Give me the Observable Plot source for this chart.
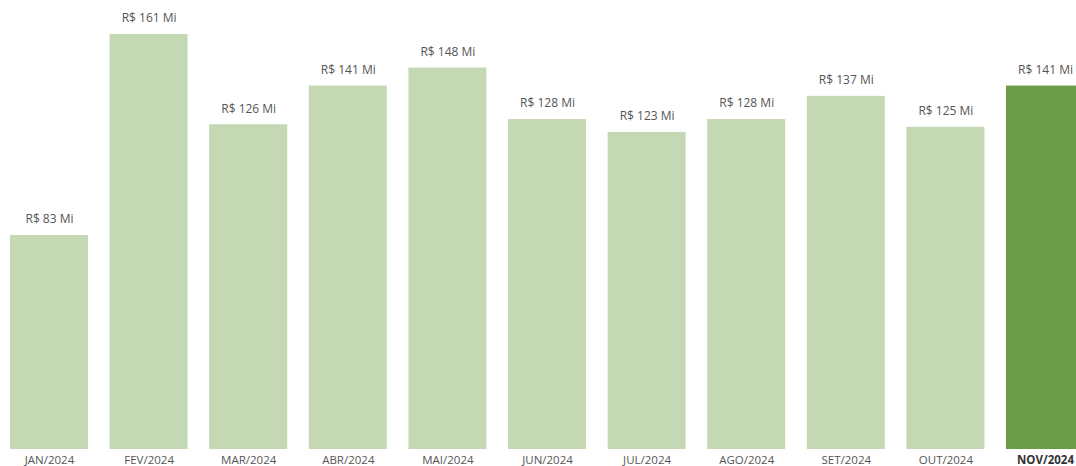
<!DOCTYPE html>
<html>
<head>
<meta charset="utf-8">
<script src="https://cdn.jsdelivr.net/npm/d3@7"></script>
<script src="https://cdn.jsdelivr.net/npm/@observablehq/plot@0.6"></script>
<style>
  html, body { margin: 0; padding: 0; background: #fff; overflow: hidden; }
  #chart svg { display: block; }
</style>
</head>
<body>
<div id="chart"></div>
<script>
const months = ["JAN/2024","FEV/2024","MAR/2024","ABR/2024","MAI/2024","JUN/2024","JUL/2024","AGO/2024","SET/2024","OUT/2024","NOV/2024"];
const values = [83, 161, 126, 141, 148, 128, 123, 128, 137, 125, 141];
const valueLabels = ["R$ 83 Mi","R$ 161 Mi","R$ 126 Mi","R$ 141 Mi","R$ 148 Mi","R$ 128 Mi","R$ 123 Mi","R$ 128 Mi","R$ 137 Mi","R$ 125 Mi","R$ 141 Mi"];
const highlight = "NOV/2024";

const data = months.map((m, i) => ({month: m, value: values[i], label: valueLabels[i], current: m === highlight}));

const chart = Plot.plot({
  width: 1076,
  height: 466,
  marginTop: 0, marginBottom: 17, marginLeft: 0, marginRight: 0,
  style: {fontFamily: "'Open Sans', 'Segoe UI', sans-serif", fontSize: "12px", background: "#fff"},
  x: {domain: months, range: [10, 1084], paddingInner: 0.217, paddingOuter: 0, round: false, axis: null},
  y: {domain: [0, 161], range: [449, 34], axis: null},
  marks: [
    Plot.barY(data, {x: "month", y: "value", fill: d => d.current ? "#6a9c47" : "#c5d8b4"}),
    Plot.text(data, {x: "month", y: "value", text: "label", dy: -16, fill: "#555", fontSize: 12}),
    Plot.text(data.filter(d => !d.current), {x: "month", y: 0, text: "month", dy: 10.5, fill: "#555", fontSize: 11.5}),
    Plot.text(data.filter(d => d.current), {x: "month", y: 0, text: "month", dy: 10.5, fill: "#333", fontSize: 11.5, fontWeight: "bold"})
  ]
});
document.getElementById("chart").appendChild(chart);
</script>
</body>
</html>
